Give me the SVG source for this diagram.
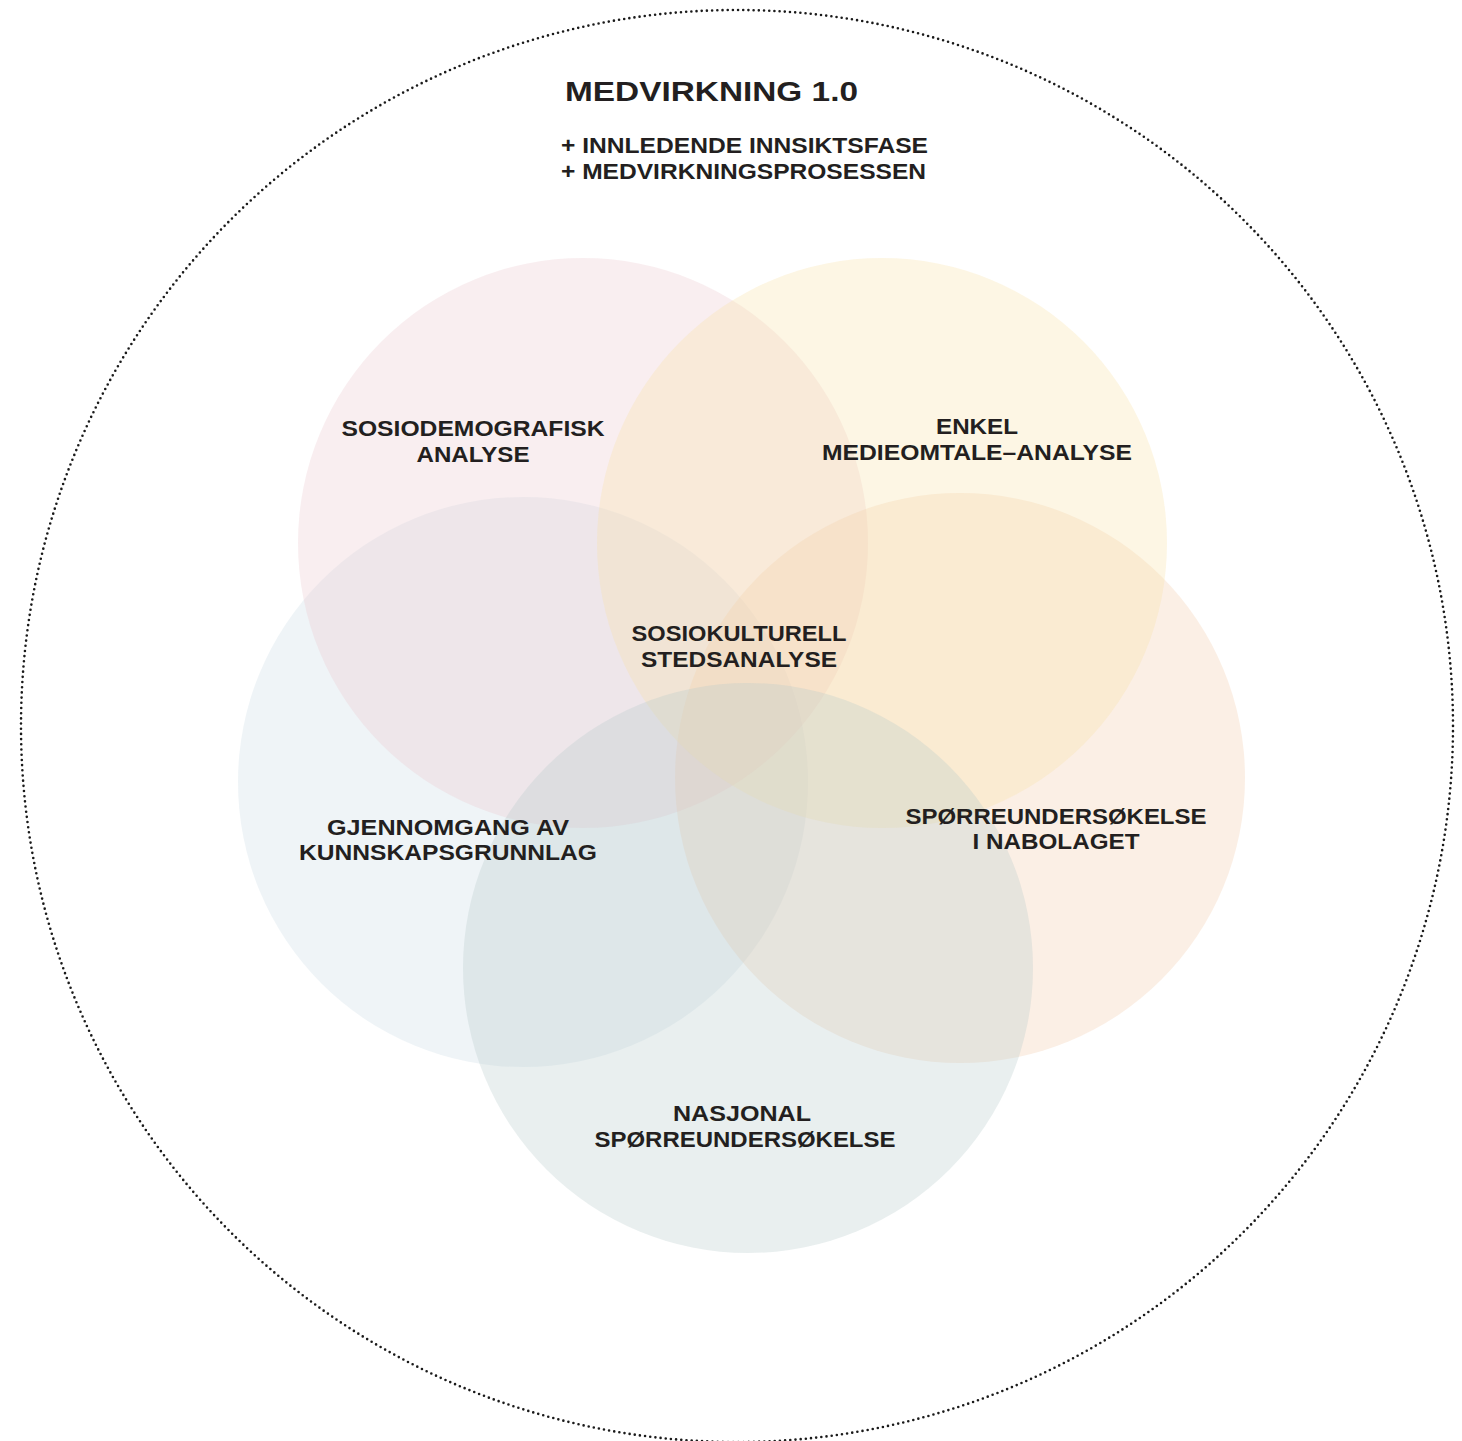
<svg xmlns="http://www.w3.org/2000/svg" width="1462" height="1441" viewBox="0 0 1462 1441">
<style>
.lbl{font-family:"Liberation Sans",Arial,sans-serif;font-weight:700;font-size:22px;fill:#231f20;text-anchor:middle}
.ttl{font-family:"Liberation Sans",Arial,sans-serif;font-weight:700;fill:#231f20}
.c{stroke:none;fill-opacity:0.3}
</style>
<rect width="1462" height="1441" fill="#ffffff"/>
<g id="outer">
<circle cx="737" cy="726" r="716" fill="none" stroke="#1a1a1a" stroke-width="2.6" stroke-linecap="round" stroke-dasharray="0 5.2"/>
</g>
<g id="title">
<text class="ttl" x="565" y="101" font-size="28" textLength="293" lengthAdjust="spacingAndGlyphs">MEDVIRKNING 1.0</text>
<text class="ttl" x="561" y="153" font-size="22" textLength="367" lengthAdjust="spacingAndGlyphs">+ INNLEDENDE INNSIKTSFASE</text>
<text class="ttl" x="561" y="179" font-size="22" textLength="365" lengthAdjust="spacingAndGlyphs">+ MEDVIRKNINGSPROSESSEN</text>
</g>
<g id="circle-kunnskapsgrunnlag"><circle class="c" cx="523" cy="782" r="285" fill="#cadae4"/></g>
<g id="circle-sosiodemografisk"><circle class="c" cx="583" cy="543" r="285" fill="#ebc6cd"/></g>
<g id="circle-nabolaget"><circle class="c" cx="960" cy="778" r="285" fill="#f2caa8"/></g>
<g id="circle-medieomtale"><circle class="c" cx="882" cy="543" r="285" fill="#f8e1a5"/></g>
<g id="circle-nasjonal"><circle class="c" cx="748" cy="968" r="285" fill="#b6caca"/></g>
<g id="label-sosiodemografisk">
<text class="lbl" x="473" y="436" textLength="263" lengthAdjust="spacingAndGlyphs">SOSIODEMOGRAFISK</text>
<text class="lbl" x="473" y="462" textLength="113" lengthAdjust="spacingAndGlyphs">ANALYSE</text>
</g>
<g id="label-medieomtale">
<text class="lbl" x="977" y="434" textLength="82" lengthAdjust="spacingAndGlyphs">ENKEL</text>
<text class="lbl" x="977" y="460" textLength="310" lengthAdjust="spacingAndGlyphs">MEDIEOMTALE–ANALYSE</text>
</g>
<g id="label-stedsanalyse">
<text class="lbl" x="739" y="641" textLength="215" lengthAdjust="spacingAndGlyphs">SOSIOKULTURELL</text>
<text class="lbl" x="739" y="667" textLength="196" lengthAdjust="spacingAndGlyphs">STEDSANALYSE</text>
</g>
<g id="label-kunnskapsgrunnlag">
<text class="lbl" x="448" y="835" textLength="242" lengthAdjust="spacingAndGlyphs">GJENNOMGANG AV</text>
<text class="lbl" x="448" y="860" textLength="298" lengthAdjust="spacingAndGlyphs">KUNNSKAPSGRUNNLAG</text>
</g>
<g id="label-nabolaget">
<text class="lbl" x="1056" y="824" textLength="301" lengthAdjust="spacingAndGlyphs">SPØRREUNDERSØKELSE</text>
<text class="lbl" x="1056" y="849" textLength="167" lengthAdjust="spacingAndGlyphs">I NABOLAGET</text>
</g>
<g id="label-nasjonal">
<text class="lbl" x="742" y="1121" textLength="138" lengthAdjust="spacingAndGlyphs">NASJONAL</text>
<text class="lbl" x="745" y="1147" textLength="301" lengthAdjust="spacingAndGlyphs">SPØRREUNDERSØKELSE</text>
</g>
</svg>
